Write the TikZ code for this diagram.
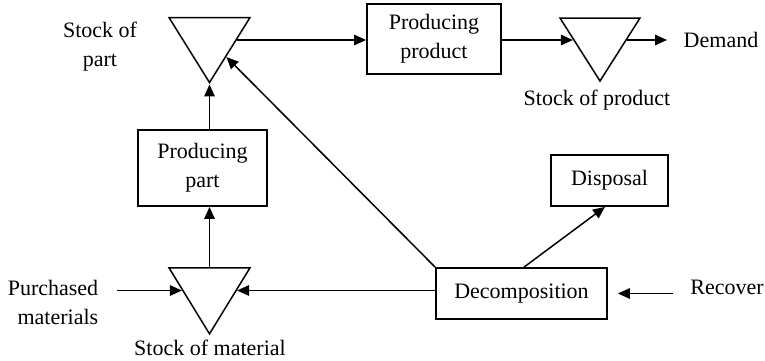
\documentclass[tikz,border=0pt]{standalone}
\usepackage{fontspec}
\setmainfont{Liberation Serif}
\usetikzlibrary{shapes.geometric,arrows.meta}
\begin{document}
\begin{tikzpicture}[x=1pt,y=-1pt,
  font=\fontsize{22}{29}\selectfont,
  box/.style={draw, line width=1.8pt, rectangle, align=center, inner sep=0pt},
  stock/.style={draw, line width=1.5pt, isosceles triangle, shape border rotate=270,
    isosceles triangle stretches=true, inner sep=0pt},
  lbl/.style={align=center, inner sep=0pt},
  flow/.style={line width=1.5pt, -{Triangle[length=12pt,width=10.5pt]}}]
\useasboundingbox (0,0) rectangle (765,361);

% stocks
\node[stock, minimum width=81pt, minimum height=65pt] (spart) at (209.5,40) {};
\node[stock, minimum width=80pt, minimum height=63pt] (sprod) at (600,40) {};
\node[stock, minimum width=81pt, minimum height=66pt] (smat) at (209.5,290.5) {};

% processes
\node[box, minimum width=134pt, minimum height=70pt] (pprod) at (434,39) {Producing\\product};
\node[box, minimum width=129pt, minimum height=76pt] (ppart) at (202.5,168) {Producing\\part};
\node[box, minimum width=117pt, minimum height=51pt] (disp) at (609.5,180.5) {Disposal};
\node[box, minimum width=171pt, minimum height=51pt] (decomp) at (521.5,293.5) {Decomposition};

% labels
\node[lbl] (lpart) at (100,47) {Stock of\\part};
\node[lbl] (lprod) at (597,100) {Stock of product};
\node[lbl] (lmat) at (210,348) {Stock of material};
\node[lbl, align=right] (lpur) at (53,302) {Purchased\\materials};
\node[lbl] (ldem) at (721,40) {Demand};
\node[lbl] (lrec) at (727,287) {Recover};

% free ends
\coordinate (dem) at (667,40);
\coordinate (pin) at (117,290.5);
\coordinate (rin) at (673,293.5);

% flows
\draw[flow] (spart) -- (spart -| pprod.west);
\draw[flow] (pprod.east |- sprod) -- (sprod);
\draw[flow] (sprod) -- (dem);
\draw[flow] (spart |- ppart.north) -- (spart);
\draw[flow] (smat) -- (smat |- ppart.south);
\draw[flow] (pin) -- (smat);
\draw[flow] (decomp.west |- smat) -- (smat);
\draw[flow] (decomp.north west) -- (spart);
\draw[flow] ([xshift=2.5pt]decomp.north) -- ([xshift=-4.5pt]disp.south);
\draw[flow] (rin) -- ([xshift=10pt]decomp.east);
\end{tikzpicture}
\end{document}
